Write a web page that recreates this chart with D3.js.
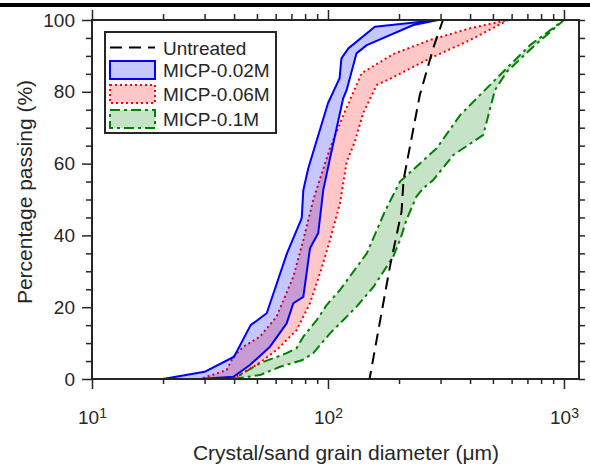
<!DOCTYPE html>
<html>
<head>
<meta charset="utf-8">
<script src="https://cdn.jsdelivr.net/npm/d3@7"></script>
<style>
  body { margin: 0; background: #fff; }
  text { font-family: "Liberation Sans", Arial, sans-serif; fill: #262626; }
</style>
</head>
<body>
<script>
// Grain size distributions: [diameter (um), percentage passing]

const untreated = [[120, 0], [150, 0], [183, 31.3], [205, 46.6], [209, 55.4], [245, 79.1], [279, 92.1], [307, 100], [400, 100]];

const micp002Upper = [[20, 0], [30, 2.0], [40, 6.2], [47, 15.0], [55, 18.3], [67, 35.0], [77.4, 44.8], [78.6, 52.6],
  [82.5, 58.7], [100, 76.8], [112, 83.8], [114, 89.3], [122, 92.1], [158, 98.1], [293, 100]];
const micp002Lower = [[20, 0], [28.7, 0], [39.7, 0.6], [46.7, 3.9], [56.8, 9.0], [66.8, 15.5], [71.3, 21.1], [78.6, 22.9],
  [83.9, 36.4], [90.9, 40.6], [95.5, 52.6], [102, 61.5], [116, 78.2], [120, 80.5], [132, 90.7], [146, 93.0], [230, 98.6], [293, 100]];

const micp006Upper = [[20, 0], [28.7, 0], [37.2, 2.5], [39.7, 6.2], [43.8, 9.0], [51.5, 11.8], [60.6, 17.4], [71.3, 28.5],
  [78.6, 38.7], [86.6, 49.9], [102, 64.3], [108.8, 68.9], [118, 74.5], [139, 85.2], [189, 90.5], [270, 94.4], [400, 97.7], [580, 100]];
const micp006Lower = [[20, 0], [39.5, 0], [48.3, 3.4], [53.2, 5.3], [60.6, 8.1], [73.6, 13.6], [83.9, 21.1], [92.5, 29.4],
  [102, 38.7], [112.4, 48.9], [120, 60.5], [130, 66.1], [141, 74.1], [161, 81.9], [183, 83.6], [270, 89.3], [400, 94.4], [580, 100]];

const micp01Upper = [[20, 0], [39.7, 0], [51.5, 4.4], [66.8, 7.2], [73.6, 8.6], [78.6, 11.8], [89.6, 16.4], [98.7, 20.6],
  [112.4, 24.8], [146, 35.0], [174, 46.6], [202, 55.0], [289, 64.3], [363, 73.5], [427, 78.2], [553, 85.6], [718, 93.0], [1000, 100]];
const micp01Lower = [[20, 0], [39.5, 0], [51.5, 1.1], [62.6, 3.4], [78, 5.3], [86.6, 7.2], [102, 12.7], [132, 20.1],
  [156, 25.7], [189, 34.1], [202, 38.7], [215, 44.3], [237, 50.8], [253, 53.1], [279, 55.4], [340, 62.4], [455, 68.0],
  [510, 80.5], [571, 85.5], [739, 92.5], [1000, 100]];

const legendLabels = ["Untreated", "MICP-0.02M", "MICP-0.06M", "MICP-0.1M"];
const xMajor = [10, 100, 1000];
const xExponents = ["1", "2", "3"];
const yMajor = [0, 20, 40, 60, 80, 100];

const width = 590, height = 466;
const plotLeft = 92, plotRight = 579, plotTop = 20, plotBottom = 379;
const axisColor = "#262626";

const svg = d3.select("body").append("svg")
  .attr("width", width)
  .attr("height", height);

// thick bar along the very top (cropped from the page)
svg.append("rect")
  .attr("x", 0).attr("y", 3)
  .attr("width", width).attr("height", 4)
  .attr("fill", "#000");

const x = d3.scaleLog().domain([10, 1158]).range([plotLeft, plotRight]);
const y = d3.scaleLinear().domain([0, 100]).range([plotBottom, plotTop]);

const xMinor = x.ticks().filter(d => !xMajor.includes(d));
const yMinor = d3.range(0, 101, 5).filter(d => !yMajor.includes(d));

const line = d3.line().x(d => x(d[0])).y(d => y(d[1]));

// bands: upper curve then lower curve reversed, closed
function band(upper, lower, color, dash) {
  const pts = upper.concat(lower.slice().reverse());
  svg.append("path")
    .attr("d", line(pts) + "Z")
    .attr("fill", color)
    .attr("fill-opacity", 0.22)
    .attr("stroke", color)
    .attr("stroke-width", 2)
    .attr("stroke-dasharray", dash)
    .attr("stroke-linejoin", "round");
}

band(micp01Upper, micp01Lower, "#008000", "10,4,3,4");
band(micp006Upper, micp006Lower, "#ff0000", "2,3");
band(micp002Upper, micp002Lower, "#0000ff", null);

svg.append("path")
  .attr("d", line(untreated))
  .attr("fill", "none")
  .attr("stroke", "#000")
  .attr("stroke-width", 2)
  .attr("stroke-dasharray", "12,7");

// axes
function styleAxis(g) {
  g.select(".domain").remove();
  g.selectAll(".tick line").attr("stroke", axisColor).attr("stroke-width", 1.5);
  g.selectAll(".tick text").attr("font-size", 19).attr("fill", axisColor)
    .style("font-family", '"Liberation Sans", Arial, sans-serif');
}

svg.append("g").attr("transform", `translate(0,${plotBottom})`)
  .call(d3.axisBottom(x).tickValues(xMinor).tickSize(5).tickFormat(""))
  .call(styleAxis);
svg.append("g").attr("transform", `translate(0,${plotBottom})`)
  .call(d3.axisBottom(x).tickValues(xMajor).tickSize(10).tickPadding(22).tickFormat(() => "10"))
  .call(styleAxis)
  .call(g => g.selectAll(".tick text").append("tspan")
    .attr("dy", "-0.45em")
    .attr("font-size", 14)
    .text((d, i) => xExponents[i]));

svg.append("g").attr("transform", `translate(0,${plotTop})`)
  .call(d3.axisTop(x).tickValues(xMinor).tickSize(6).tickFormat(""))
  .call(styleAxis);
svg.append("g").attr("transform", `translate(0,${plotTop})`)
  .call(d3.axisTop(x).tickValues(xMajor).tickSize(10).tickFormat(""))
  .call(styleAxis);

svg.append("g").attr("transform", `translate(${plotLeft},0)`)
  .call(d3.axisLeft(y).tickValues(yMinor).tickSize(6).tickFormat(""))
  .call(styleAxis);
svg.append("g").attr("transform", `translate(${plotLeft},0)`)
  .call(d3.axisLeft(y).tickValues(yMajor).tickSize(10).tickPadding(7))
  .call(styleAxis);

svg.append("g").attr("transform", `translate(${plotRight},0)`)
  .call(d3.axisRight(y).tickValues(d3.range(0, 101, 5)).tickSize(6).tickFormat(""))
  .call(styleAxis);

// frame
svg.append("rect")
  .attr("x", plotLeft).attr("y", plotTop)
  .attr("width", plotRight - plotLeft).attr("height", plotBottom - plotTop)
  .attr("fill", "none")
  .attr("stroke", axisColor)
  .attr("stroke-width", 2);

// axis labels
svg.append("text")
  .attr("x", 346).attr("y", 460)
  .attr("text-anchor", "middle")
  .attr("font-size", 21)
  .text("Crystal/sand grain diameter (μm)");

svg.append("text")
  .attr("transform", "translate(32,192) rotate(-90)")
  .attr("text-anchor", "middle")
  .attr("font-size", 21)
  .text("Percentage passing (%)");

// legend
const legend = svg.append("g");
legend.append("rect")
  .attr("x", 105).attr("y", 32)
  .attr("width", 171).attr("height", 101)
  .attr("fill", "#fff")
  .attr("stroke", axisColor)
  .attr("stroke-width", 2);

const rowY = [47.5, 70, 94, 119];
legend.append("line")
  .attr("x1", 110).attr("x2", 155)
  .attr("y1", rowY[0]).attr("y2", rowY[0])
  .attr("stroke", "#000").attr("stroke-width", 2)
  .attr("stroke-dasharray", "12,7");

const patchStyles = [["#0000ff", null], ["#ff0000", "2,3"], ["#008000", "10,4,3,4"]];
patchStyles.forEach((s, i) => {
  legend.append("rect")
    .attr("x", 110).attr("y", rowY[i + 1] - 9)
    .attr("width", 45).attr("height", 18)
    .attr("fill", s[0]).attr("fill-opacity", 0.22)
    .attr("stroke", s[0]).attr("stroke-width", 2)
    .attr("stroke-dasharray", s[1]);
});

legend.selectAll("text.lab")
  .data(legendLabels)
  .join("text")
  .attr("class", "lab")
  .attr("x", 163)
  .attr("y", (d, i) => rowY[i] + 7)
  .attr("font-size", 19)
  .text(d => d);
</script>
</body>
</html>
